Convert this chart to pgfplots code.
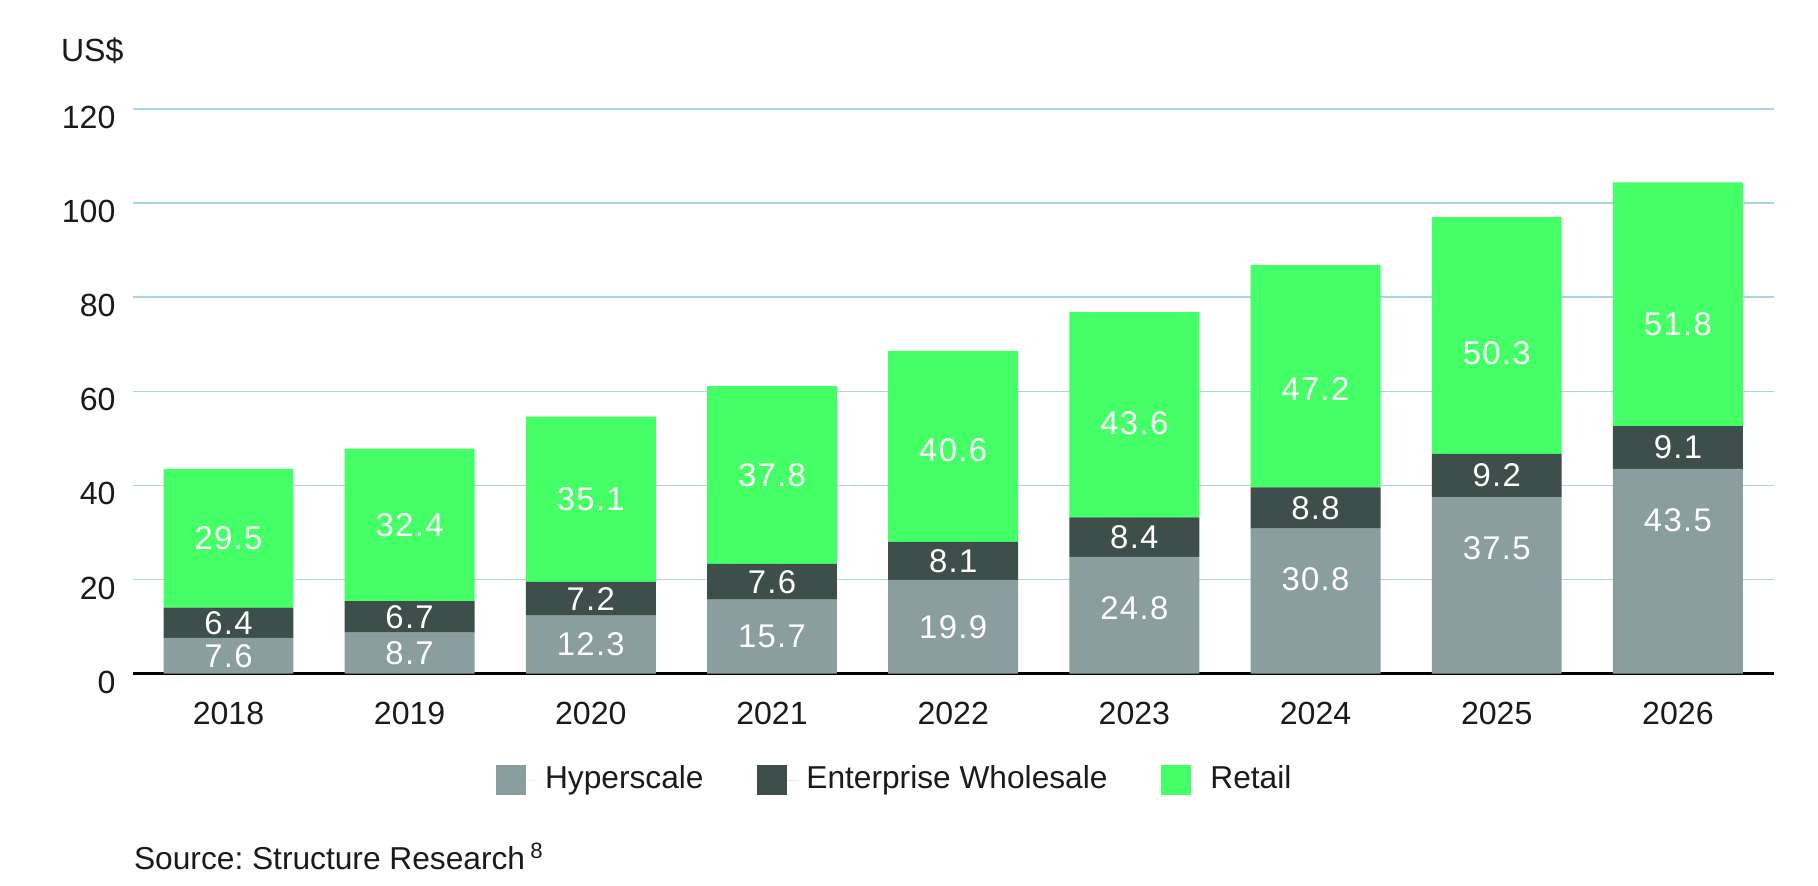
\documentclass[border=0pt]{standalone}
\usepackage{fontspec}
\setmainfont{Liberation Sans}
\usepackage{pgfplots}
\usepackage{pgfplotstable}
\pgfplotsset{compat=1.18}
\definecolor{hyp}{HTML}{8A9D9F}
\definecolor{ent}{HTML}{3E4E4B}
\definecolor{ret}{HTML}{44FF66}
\definecolor{gridc}{HTML}{A9D6DB}
\definecolor{txt}{HTML}{1A1A1A}
\pgfplotstableread{
x hyp ent ret
0 7.6 6.4 29.5
1 8.7 6.7 32.4
2 12.3 7.2 35.1
3 15.7 7.6 37.8
4 19.9 8.1 40.6
5 24.8 8.4 43.6
6 30.8 8.8 47.2
7 37.5 9.2 50.3
8 43.5 9.1 51.8
}\datatable
\newcommand{\lblfont}{\fontsize{8.5}{10}\selectfont\addfontfeature{LetterSpace=4}}
\begin{document}
\frenchspacing
\begin{tikzpicture}
\begin{axis}[name=ax, scale only axis, width=424.5pt, height=146.1pt,
  ybar stacked, bar width=0.717,
  xmin=-0.525, xmax=8.53, ymin=0, ymax=120,
  xtick={0,...,8}, xticklabels={2018,2019,2020,2021,2022,2023,2024,2025,2026},
  ytick={20,40,60,80,100,120},
  extra y ticks={0},
  extra y tick style={major grid style={black, line width=0.6pt}},
  ymajorgrids, major grid style={gridc, line width=0.4pt},
  axis line style={draw=none}, tick style={draw=none},
  font=\fontsize{8.3}{10}\selectfont, text=txt,
  /pgf/number format/assume math mode=true,
  yticklabel style={yshift=-2.2pt, xshift=-1.1pt},
  xticklabel style={yshift=-3.8pt},
  legend columns=3,
  legend cell align=left,
  legend style={at={(0.4657,-0.1889)}, anchor=center, draw=none, fill=none,
    font=\fontsize{8.2}{10}\selectfont,
    /tikz/every even column/.append style={column sep=11.8pt}},
  legend image code/.code={\fill[#1] (0pt,-3.9pt) rectangle (7.8pt,3.9pt); \path (0pt,0pt) -- (10.8pt,0pt);},
  point meta=explicit,
  nodes near coords={\pgfmathprintnumber[fixed,fixed zerofill,precision=1,assume math mode=true]{\pgfplotspointmeta}},
  clip=false,
]
\addplot[fill=hyp, draw=none,
  visualization depends on={max(\thisrow{hyp}/2-10.8,0)*1.2175 \as \sh},
  every node near coord/.append style={anchor=center, yshift=\sh pt, text=white, font=\lblfont}]
  table[x=x, y=hyp, meta=hyp]{\datatable};
\addlegendentry{Hyperscale}
\addplot[fill=ent, draw=none,
  every node near coord/.append style={anchor=center, text=white, font=\lblfont}]
  table[x=x, y=ent, meta=ent]{\datatable};
\addlegendentry{Enterprise Wholesale}
\addplot[fill=ret, draw=none,
  visualization depends on={max(\thisrow{ret}-38,0)*0.3*1.2175 \as \sh},
  every node near coord/.append style={anchor=center, yshift=-\sh pt, text=white, font=\lblfont}]
  table[x=x, y=ret, meta=ret]{\datatable};
\addlegendentry{Retail}
\end{axis}
\node[anchor=base west, inner sep=0, text=txt, font=\fontsize{8.3}{10}\selectfont] at ([xshift=-18.9pt, yshift=12.3pt]ax.north west) {US\$};
\node[anchor=base west, inner sep=0, text=txt, font=\fontsize{8.2}{10}\selectfont] at ([yshift=-50.7pt]ax.south west) {Source: Structure Research\,\textsuperscript{8}};
\pgfresetboundingbox
\path (ax.south west) ++(-34.5pt,-54.9pt) rectangle ++(470.4pt,229.2pt);
\end{tikzpicture}
\end{document}
